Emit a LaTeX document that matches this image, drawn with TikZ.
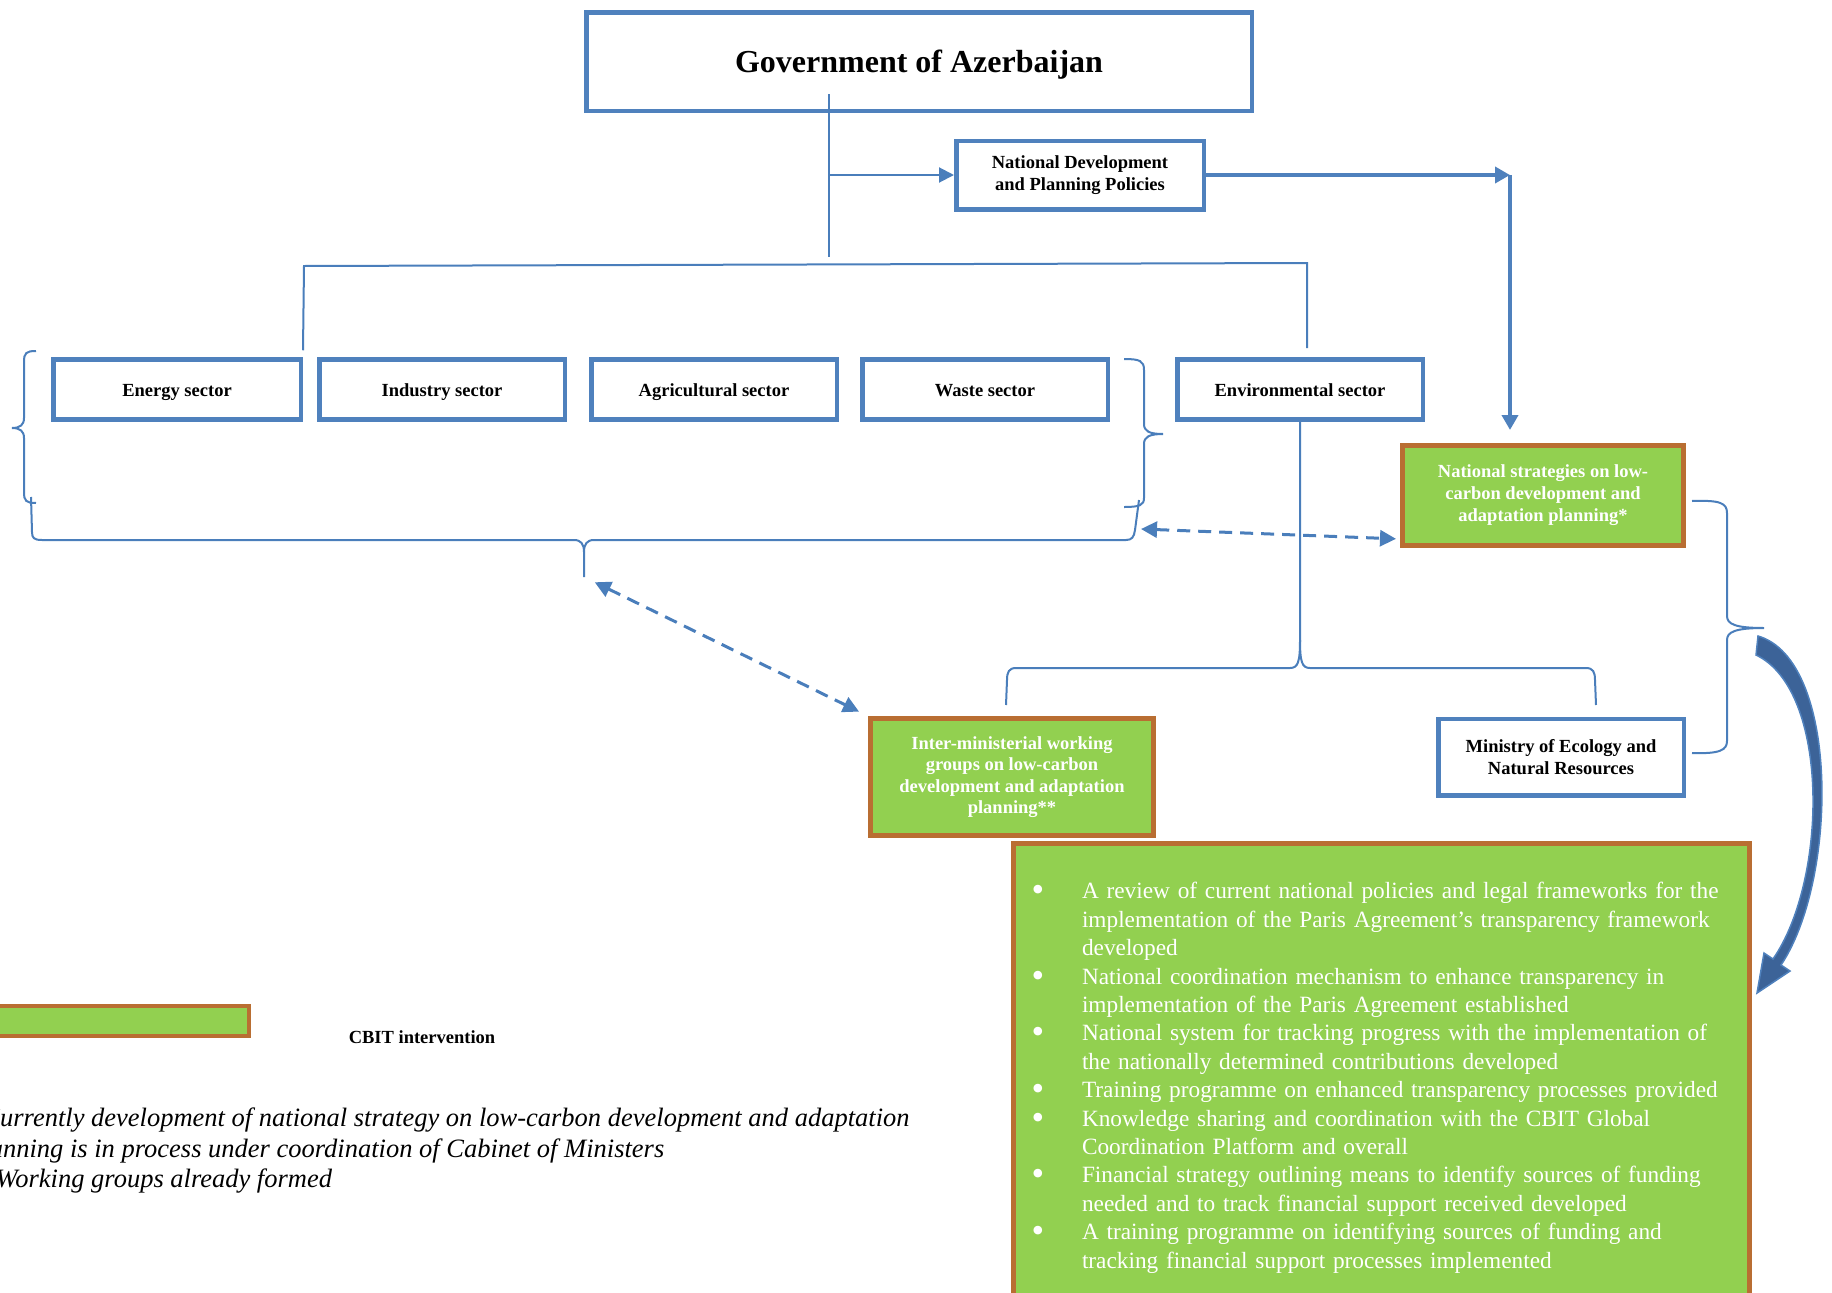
\documentclass[tikz,border=0pt]{standalone}
\usepackage{fontspec}
\setmainfont{Liberation Serif}
\usetikzlibrary{arrows.meta}
\definecolor{boxblue}{RGB}{79,129,189}
\definecolor{lineblue}{RGB}{74,126,187}
\definecolor{cbitgreen}{RGB}{146,208,80}
\definecolor{cbitbrown}{RGB}{185,110,50}
\definecolor{arrowblue}{RGB}{60,99,152}

\begin{document}
\begin{tikzpicture}[x=1pt, y=-1pt, font=\bfseries\fontsize{18.5}{22}\selectfont]
	\tikzstyle{blueStyle}=[draw=boxblue, line width=4.5pt, fill=white, align=center, inner sep=0pt]
	\tikzstyle{sectorStyle}=[blueStyle, minimum width=245.5pt, minimum height=60pt, text height=13pt, text depth=0pt]
	\tikzstyle{greenStyle}=[draw=cbitbrown, line width=5pt, fill=cbitgreen, text=white, align=center, inner sep=0pt]
	\tikzstyle{linkStyle}=[draw=lineblue, line width=2pt]
	\tikzstyle{dashStyle}=[draw=lineblue, line width=3pt, dash pattern=on 13pt off 8pt, {Triangle[length=16pt,width=16pt]}-{Triangle[length=16pt,width=16pt]}]
	\tikzstyle{flowStyle}=[draw=boxblue, line width=4pt, -{Triangle[length=15pt,width=16pt]}]
	\useasboundingbox (0,0) rectangle (1832,1293);
	\clip (0,0) rectangle (1832,1293);
	\node[blueStyle, minimum width=665.5pt, minimum height=98.5pt, text height=22pt, text depth=1pt, font=\bfseries\fontsize{32}{38}\selectfont] (gov) at (919,61.5) {Government of Azerbaijan};
	\node[blueStyle, minimum width=247.5pt, minimum height=68.5pt] (ndp) at (1080,175) {National Development\\and Planning Policies};
	\node[sectorStyle, minimum width=247.5pt] (energy) at (177,389.5) {Energy sector};
	\node[sectorStyle] (industry) at (442,389.5) {Industry sector};
	\node[sectorStyle] (agri) at (714,389.5) {Agricultural sector};
	\node[sectorStyle] (waste) at (985,389.5) {Waste sector};
	\node[sectorStyle] (env) at (1300,389.5) {Environmental sector};
	\node[greenStyle, minimum width=281pt, minimum height=100pt] (nls) at (1543,495.5) {National strategies on low-\\carbon development and\\adaptation planning*};
	\node[blueStyle, minimum width=245.5pt, minimum height=76.5pt] (mene) at (1561,757) {Ministry of Ecology and\\Natural Resources};
	\node[greenStyle, minimum width=283pt, minimum height=117pt, font=\bfseries\fontsize{18.5}{21.5}\selectfont] (imwg) at (1012,777) {Inter-ministerial working\\groups on low-carbon\\development and adaptation\\planning**};
	\node[greenStyle, anchor=north west, text width=736pt, align=left, inner ysep=27pt, font=\normalfont\fontsize{23.3}{28.4}\selectfont] (outputs) at (1011,841) {%
		\begin{list}{\smash{\raisebox{-3pt}{\fontsize{36}{36}\selectfont\textbullet}}}{\setlength{\leftmargin}{68.5pt}\setlength{\labelsep}{37.7pt}\setlength{\labelwidth}{20pt}\setlength{\itemsep}{0pt}\setlength{\parsep}{0pt}\setlength{\topsep}{0pt}\setlength{\partopsep}{0pt}}
		\item A review of current national policies and legal frameworks for the\newline implementation of the Paris Agreement’s transparency framework\newline developed
		\item National coordination mechanism to enhance transparency in\newline implementation of the Paris Agreement established
		\item National system for tracking progress with the implementation of\newline the nationally determined contributions developed
		\item Training programme on enhanced transparency processes provided
		\item Knowledge sharing and coordination with the CBIT Global\newline Coordination Platform and overall
		\item Financial strategy outlining means to identify sources of funding\newline needed and to track financial support received developed
		\item A training programme on identifying sources of funding and\newline tracking financial support processes implemented
		\end{list}};
	\node[greenStyle, line width=4pt, minimum width=350pt, minimum height=30pt] (legend) at (74,1021) {};
	\node (cbit) at (422,1037) {CBIT intervention};
	\node[anchor=north west, align=left, inner sep=0pt, font=\normalfont\itshape\fontsize{26.5}{30.5}\selectfont] (notes) at (-31,1108) {*Currently development of national strategy on low-carbon development and adaptation\\planning is in process under coordination of Cabinet of Ministers\\**Working groups already formed};
	\coordinate (gtop) at (829,94);
	\coordinate (gfoot) at (829,257);
	\coordinate (busL) at (304,266);
	\coordinate (busR) at (1307,263);
	\coordinate (turn) at (1510,175);
	\coordinate (sectip) at (584,577);
	\coordinate (secside) at (1141,529);
	\draw[linkStyle] (gtop) -- (gfoot);
	\draw[linkStyle, -{Triangle[length=15pt,width=15pt]}] (gtop |- ndp.west) -- (ndp.west);
	\draw[linkStyle] ([yshift=7pt]energy.north east) -- (busL) -- (busR) -- ++(0,85);
	\draw[flowStyle] (ndp.east) -- (turn);
	\draw[flowStyle, shorten >=13pt] (turn) -- (turn |- nls.north);
	\draw[linkStyle] (36,351) .. controls (26,351) and (24,353) .. (24,362) -- (24,418) .. controls (24,425) and (20,428) .. (12,428) .. controls (20,428) and (24,431) .. (24,438) -- (24,492) .. controls (24,501) and (26,503) .. (36,503);
	\draw[linkStyle] (1124,359) .. controls (1140,359) and (1144,361) .. (1144,370) -- (1144,424) .. controls (1144,431) and (1149,434) .. (1163,434) .. controls (1149,434) and (1144,437) .. (1144,444) -- (1144,498) .. controls (1144,505) and (1140,507) .. (1124,507);
	\draw[linkStyle] (31,497) -- (32,532) .. controls (32,538) and (34,540) .. (42,540) -- (574,540) .. controls (581,540) and (584,544) .. (584,552) -- (sectip);
	\draw[linkStyle] (584,552) .. controls (584,544) and (587,540) .. (594,540) -- (1126,540) .. controls (1132,540) and (1134,537) .. (1135,530) -- (1139,500);
	\draw[linkStyle] (env.south) -- (1300,640) .. controls (1300,662) and (1298,668) .. (1290,668) -- (1016,668) .. controls (1009,668) and (1007,672) .. (1007,680) -- (1006,705);
	\draw[linkStyle] (1300,640) .. controls (1300,662) and (1302,668) .. (1310,668) -- (1586,668) .. controls (1593,668) and (1595,672) .. (1595,680) -- (1596,705);
	\draw[linkStyle] (1692,501) .. controls (1720,500) and (1727,503) .. (1727,513) -- (1727,616) .. controls (1727,624) and (1735,628) .. (1764,628) .. controls (1735,628) and (1727,632) .. (1727,640) -- (1727,741) .. controls (1727,750) and (1720,754) .. (1692,753);
	\draw[dashStyle, shorten <=12pt, shorten >=10pt] (sectip) -- (imwg.north west);
	\draw[dashStyle, shorten >=4pt] (secside) -- ([yshift=9pt]nls.south west);
	\filldraw[fill=arrowblue, draw=boxblue, line width=1.5pt] (1758,636) .. controls (1840,660) and (1838,880) .. (1781,965) -- (1790,971) -- (1757,993) -- (1764,953) -- (1773,959) .. controls (1828,880) and (1830,690) .. (1756,655) -- cycle;
\end{tikzpicture}
\end{document}
